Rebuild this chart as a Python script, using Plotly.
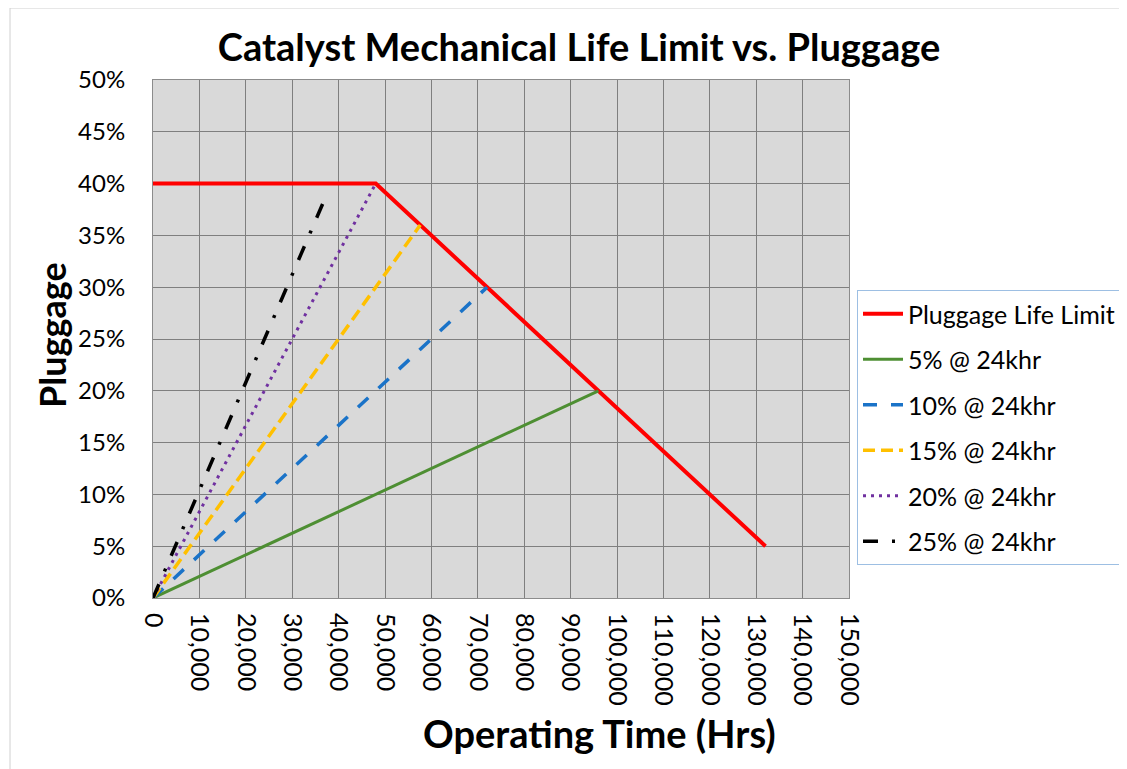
import plotly.graph_objects as go

# ---- data ----
series_names = ["Pluggage Life Limit", "5% @ 24khr", "10% @ 24khr",
                "15% @ 24khr", "20% @ 24khr", "25% @ 24khr"]
limit_hours = [0, 48000, 132000]
limit_pct = [40, 40, 5]
r5_hours = [0, 96000]
r5_pct = [0, 20]
r10_hours = [0, 72000]
r10_pct = [0, 30]
r15_hours = [0, 57600]
r15_pct = [0, 36]
r20_hours = [0, 48000]
r20_pct = [0, 40]
r25_hours = [0, 37000]
r25_pct = [0, 38.5]

x_ticks = list(range(0, 150001, 10000))
y_ticks = list(range(0, 51, 5))
y_tick_labels = [f"{v}%" for v in y_ticks]

FONT = "Lato, 'Open Sans', sans-serif"

# page has an 8px body margin; figure is placed at (8,8)
OFF = 8
W, H = 1127 - OFF, 769 - OFF
L, T = 153 - OFF, 80 - OFF
PW, PH = 696, 518

styles = [
    dict(color="#ff0000", width=4, dash="solid"),
    dict(color="#4e8f33", width=3, dash="solid"),
    dict(color="#1a73c8", width=3.5, dash="14px,14px"),
    dict(color="#ffc000", width=3.5, dash="12px,6px"),
    dict(color="#7030a0", width=3, dash="3px,5px"),
    dict(color="#000000", width=3.5, dash="15px,14px,3px,14px"),
]
data = [(limit_hours, limit_pct), (r5_hours, r5_pct), (r10_hours, r10_pct),
        (r15_hours, r15_pct), (r20_hours, r20_pct), (r25_hours, r25_pct)]

fig = go.Figure()
for i, ((xs, ys), name, st) in enumerate(zip(data, series_names, styles)):
    fig.add_trace(go.Scatter(x=xs, y=ys, mode="lines", name=name,
                             legendgroup=f"g{i}", line=st,
                             hoverinfo="skip"))

fig.update_layout(
    width=W, height=H,
    margin=dict(l=L, r=W - L - PW, t=T, b=H - T - PH, autoexpand=False),
    paper_bgcolor="white",
    plot_bgcolor="#d9d9d9",
    font=dict(family=FONT, color="black"),
    title=dict(text="<b>Catalyst Mechanical Life Limit vs. Pluggage</b>",
               x=(579 - OFF) / W, xref="container", xanchor="center",
               y=1 - (48 - OFF) / H, yref="container", yanchor="middle",
               font=dict(family=FONT, size=38, color="black")),
    showlegend=True,
    legend=dict(x=(857 - 153) / PW, xanchor="left",
                y=(598 - 290) / PH, yanchor="top",
                bgcolor="white", bordercolor="#9dbfe3", borderwidth=1,
                font=dict(family=FONT, size=25, color="black"),
                tracegroupgap=10, itemwidth=40),
    xaxis=dict(range=[0, 150000], tickvals=x_ticks, tickformat=",d",
               tickangle=90, showgrid=True, gridcolor="#7f7f7f", gridwidth=1,
               zeroline=False, showline=True, linecolor="#8c8c8c", mirror=True,
               ticks="", ticklabelstandoff=9,
               tickfont=dict(family=FONT, size=25, color="black")),
    yaxis=dict(range=[0, 50], tickvals=y_ticks, ticktext=y_tick_labels,
               showgrid=True, gridcolor="#7f7f7f", gridwidth=1,
               zeroline=False, showline=True, linecolor="#8c8c8c", mirror=True,
               ticks="", ticklabelstandoff=22,
               tickfont=dict(family=FONT, size=24, color="black")),
    annotations=[
        dict(text="<b>Pluggage</b>", xref="paper", yref="paper",
             x=(52 - 153) / PW, y=(598 - 335) / PH, textangle=-90,
             showarrow=False, xanchor="center", yanchor="middle",
             font=dict(family=FONT, size=36, color="black")),
        dict(text="<b>Operating Time (Hrs)</b>", xref="paper", yref="paper",
             x=(599 - 153) / PW, y=(598 - 733) / PH,
             showarrow=False, xanchor="center", yanchor="middle",
             font=dict(family=FONT, size=38, color="black")),
    ],
    shapes=[
        dict(type="rect", xref="paper", yref="paper",
             x0=(10 - 153) / PW, x1=1.5, y0=-0.4, y1=(598 - 8) / PH,
             line=dict(color="#d0d0d0", width=1), layer="below"),
    ],
)

fig.write_html("out.html")
